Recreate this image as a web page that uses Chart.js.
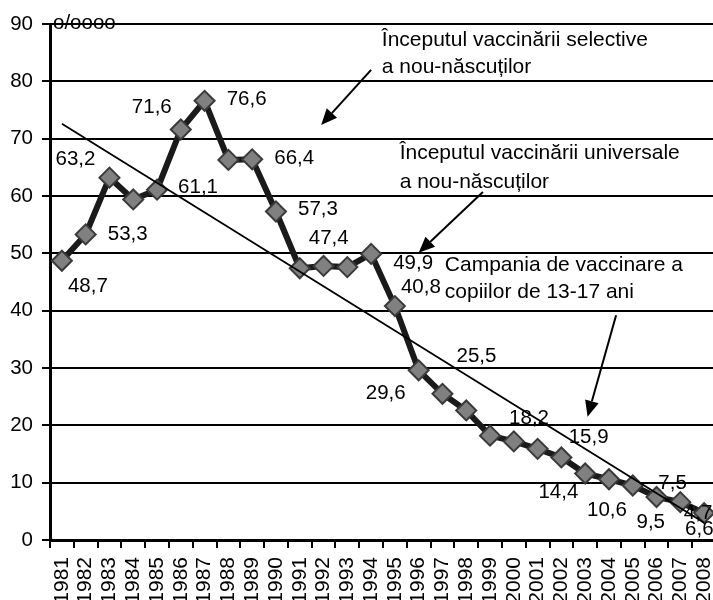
<!DOCTYPE html>
<html lang="ro">
<head>
<meta charset="UTF-8">
<title>Incidența hepatitei virale B</title>
<style>
  body { margin: 0; padding: 0; background: #fff; overflow: hidden; }
  #wrap { width: 728px; height: 600px; }
</style>
</head>
<body>
<div id="wrap"><canvas id="chart" width="728" height="600"></canvas></div>
<script src="https://cdn.jsdelivr.net/npm/chart.js"></script>
<script>
// data
const years = ['1981','1982','1983','1984','1985','1986','1987','1988','1989','1990',
  '1991','1992','1993','1994','1995','1996','1997','1998','1999','2000',
  '2001','2002','2003','2004','2005','2006','2007','2008'];
const incidence = [48.7, 53.3, 63.2, 59.4, 61.1, 71.6, 76.6, 66.3, 66.4, 57.3,
  47.4, 47.8, 47.6, 49.9, 40.8, 29.6, 25.5, 22.6, 18.2, 17.2,
  15.9, 14.4, 11.6, 10.6, 9.5, 7.5, 6.6, 4.7];
const trendEnds = [72.6, 3.0];          // trend line value in 1981 and 2008
const yTickValues = [0, 10, 20, 30, 40, 50, 60, 70, 80, 90];
const unitLabel = 'o/oooo';

// which points carry a value label, and where the label sits (px from the point)
const labelled = [0, 1, 2, 4, 5, 6, 8, 9, 10, 13, 14, 15, 16, 18, 20, 21, 23, 24, 25, 26, 27];
const labelOffsets = [[26,26],[42,0],[-34,-18],[41,-2],[-29,-22],[42,-1],[42,-1],[42,-2],[29,-30],
  [42,9],[26,-19],[-33,23],[34,-37],[39,-17],[51,-11],[-3,35],[-2,31],[18,37],[16,-14],[19,27],[-6,0]];

// notes with arrows, in (category index, value) units
const notes = [
  { x: 13.45, ys: [87.2, 82.5], lines: ['Începutul vaccinării selective', 'a nou-născuților'] },
  { x: 14.2, ys: [67.5, 62.4], lines: ['Începutul vaccinării universale', 'a nou-născuților'] },
  { x: 16.1, ys: [48.0, 43.3], lines: ['Campania de vaccinare a', 'copiilor de 13-17 ani'] }
];
const arrows = [
  { from: [13.0, 82.0], to: [10.9, 72.4] },
  { from: [17.7, 60.7], to: [15.0, 50.1] },
  { from: [23.3, 39.2], to: [22.1, 21.5] }
];

const FONT = '"Liberation Sans", Arial, sans-serif';

const trendData = years.map((y, i) => i === 0 ? trendEnds[0] : (i === years.length - 1 ? trendEnds[1] : null));

const overlay = {
  id: 'overlay',
  afterDatasetsDraw(chart) {
    const ctx = chart.ctx;
    const xs = chart.scales.x, ys = chart.scales.y;
    ctx.save();
    ctx.fillStyle = '#000';
    ctx.strokeStyle = '#000';

    // value labels
    ctx.font = '20.5px ' + FONT;
    ctx.textAlign = 'center';
    ctx.textBaseline = 'middle';
    labelled.forEach((idx, k) => {
      const px = xs.getPixelForValue(idx) + labelOffsets[k][0];
      const py = ys.getPixelForValue(incidence[idx]) + labelOffsets[k][1];
      ctx.fillText(String(incidence[idx]).replace('.', ','), px, py);
    });

    // unit on the y axis
    ctx.textAlign = 'left';
    ctx.fillText(unitLabel, chart.chartArea.left + 3, ys.getPixelForValue(90) - 1);

    // notes
    ctx.font = '21px ' + FONT;
    notes.forEach(n => {
      n.lines.forEach((t, j) => {
        ctx.fillText(t, xs.getPixelForValue(n.x), ys.getPixelForValue(n.ys[j]));
      });
    });

    // arrows
    arrows.forEach(a => {
      const x1 = xs.getPixelForValue(a.from[0]), y1 = ys.getPixelForValue(a.from[1]);
      const x2 = xs.getPixelForValue(a.to[0]), y2 = ys.getPixelForValue(a.to[1]);
      const ang = Math.atan2(y2 - y1, x2 - x1);
      const len = 16, half = 7;
      const bx = x2 - len * Math.cos(ang), by = y2 - len * Math.sin(ang);
      ctx.lineWidth = 2;
      ctx.beginPath();
      ctx.moveTo(x1, y1);
      ctx.lineTo(bx, by);
      ctx.stroke();
      ctx.beginPath();
      ctx.moveTo(x2, y2);
      ctx.lineTo(bx + half * Math.sin(ang), by - half * Math.cos(ang));
      ctx.lineTo(bx - half * Math.sin(ang), by + half * Math.cos(ang));
      ctx.closePath();
      ctx.fill();
    });
    ctx.restore();
  }
};

new Chart(document.getElementById('chart').getContext('2d'), {
  type: 'line',
  data: {
    labels: years,
    datasets: [
      {
        // linear trend
        data: trendData,
        spanGaps: true,
        borderColor: '#000',
        borderWidth: 1.8,
        pointRadius: 0,
        order: 0
      },
      {
        data: incidence,
        borderColor: '#1a1a1a',
        borderWidth: 6,
        pointStyle: 'rectRot',
        pointRadius: 10,
        pointBackgroundColor: '#808080',
        pointBorderColor: '#3a3a3a',
        pointBorderWidth: 2,
        tension: 0,
        order: 1
      }
    ]
  },
  options: {
    responsive: false,
    animation: false,
    layout: { padding: { top: 24, right: 3.6, left: 0, bottom: 0 } },
    plugins: { legend: { display: false }, tooltip: { enabled: false } },
    scales: {
      x: {
        offset: true,
        grid: { offset: true, drawOnChartArea: false, drawTicks: true, tickLength: 8, color: '#000', lineWidth: 2 },
        border: { display: true, color: '#000', width: 3 },
        ticks: { color: '#000', font: { size: 21, family: FONT }, minRotation: 90, maxRotation: 90, autoSkip: false, padding: 9 },
        afterFit(scale) {
          scale.height = 60;
          scale.paddingLeft = 0;
          scale.paddingRight = 0;
        }
      },
      y: {
        min: 0,
        max: 90,
        afterBuildTicks(scale) { scale.ticks = yTickValues.map(v => ({ value: v })); },
        ticks: { color: '#000', font: { size: 20.5, family: FONT }, padding: 9 },
        grid: { color: '#000', lineWidth: 2, tickLength: 8 },
        border: { color: '#000', width: 3 },
        afterFit(scale) { scale.width = 50; }
      }
    }
  },
  plugins: [overlay]
});
</script>
</body>
</html>
